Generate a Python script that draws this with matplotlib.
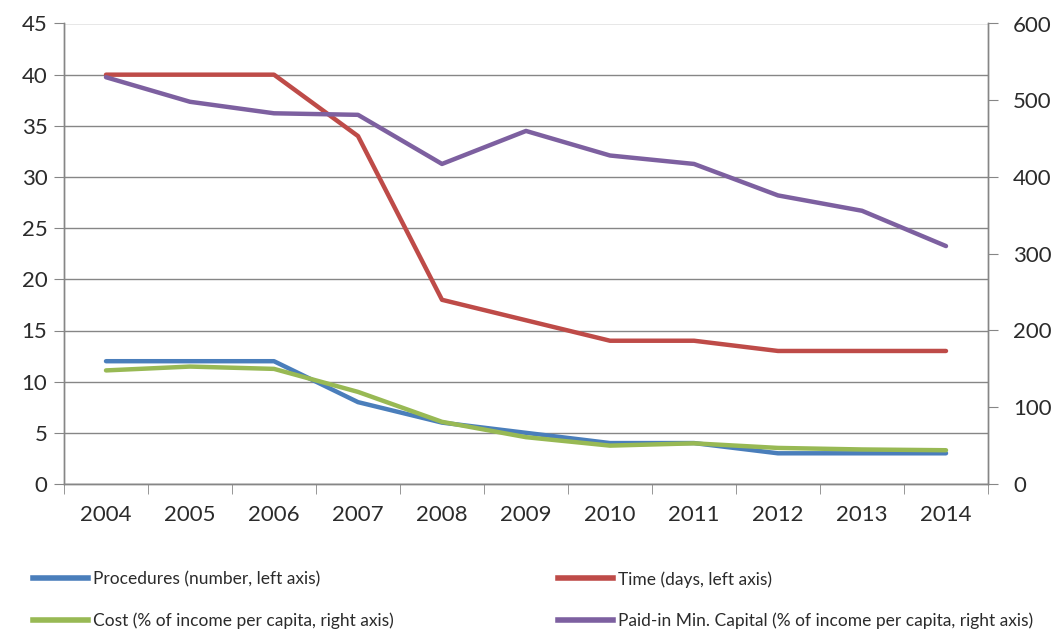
import matplotlib
matplotlib.use("Agg")
import matplotlib.pyplot as plt
from matplotlib.lines import Line2D
import numpy as np

years = ["2004", "2005", "2006", "2007", "2008", "2009", "2010", "2011", "2012", "2013", "2014"]
procedures = [12, 12, 12, 8, 6, 5, 4, 4, 3, 3, 3]
time_days = [40, 40, 40, 34, 18, 16, 14, 14, 13, 13, 13]
cost = [148, 153, 150, 120, 81, 61, 50, 53, 47, 45, 44]
paid_in = [530, 498, 483, 481, 417, 460, 428, 417, 376, 356, 310]

labels = ["Procedures (number, left axis)", "Time (days, left axis)",
          "Cost (% of income per capita, right axis)",
          "Paid-in Min. Capital (% of income per capita, right axis)"]
colors = ["#4A7EBB", "#BE4B48", "#98B954", "#7D60A0"]

tick_font = ["Lato", "DejaVu Sans"]
leg_font = ["Lato", "DejaVu Sans"]
gray = "#868686"
txt = "#2b2b2b"

W, H = 1058, 629
fig = plt.figure(figsize=(W / 100, H / 100), dpi=100)
ax = fig.add_axes([64 / W, 1 - 484 / H, (988 - 64) / W, (484 - 23.5) / H])
ax2 = ax.twinx()

x = np.arange(len(years))
lw = 3.2
ax.plot(x, procedures, color=colors[0], lw=lw, solid_capstyle="round", zorder=3)
ax.plot(x, time_days, color=colors[1], lw=lw, solid_capstyle="round", zorder=3)
ax2.plot(x, cost, color=colors[2], lw=lw, solid_capstyle="round", zorder=3)
ax2.plot(x, paid_in, color=colors[3], lw=lw, solid_capstyle="round", zorder=3)

ax.set_xlim(-0.5, len(years) - 0.5)
ax.set_ylim(0, 45)
ax2.set_ylim(0, 600)
ax.set_yticks(np.arange(0, 46, 5))
ax2.set_yticks(np.arange(0, 601, 100))
ax.set_xticks(x)
ax.set_xticklabels(years)
ax.set_xticks(np.arange(-0.5, len(years), 1), minor=True)
ax.tick_params(axis="x", which="major", length=0, pad=15)
ax.tick_params(axis="x", which="minor", length=7, color=gray, direction="out")
ax.tick_params(axis="y", length=7, color=gray, direction="out", pad=5)
ax2.tick_params(axis="y", length=7, color=gray, direction="out", pad=11)

for a in (ax, ax2):
    for lab in a.get_xticklabels() + a.get_yticklabels():
        lab.set_fontfamily(tick_font)
        lab.set_fontsize(16)
        lab.set_color(txt)

ax.grid(axis="y", color=gray, lw=1)
ax.set_axisbelow(True)
for a in (ax, ax2):
    a.spines["top"].set_visible(False)
    for s in ("left", "right", "bottom"):
        a.spines[s].set_color(gray)
        a.spines[s].set_linewidth(1)

h = [Line2D([], [], color=c, lw=4) for c in colors]
common = dict(loc="upper left", frameon=False, prop={"family": leg_font, "size": 12.5},
              handlelength=3.15, handletextpad=0.3, labelspacing=1.45,
              borderpad=0, borderaxespad=0, labelcolor=txt)
fig.legend([h[0], h[2]], [labels[0], labels[2]],
           bbox_to_anchor=(33 / W, 1 - 571 / H), **common)
fig.legend([h[1], h[3]], [labels[1], labels[3]],
           bbox_to_anchor=(558 / W, 1 - 571 / H), **common)

fig.savefig("out.png", dpi=100)
